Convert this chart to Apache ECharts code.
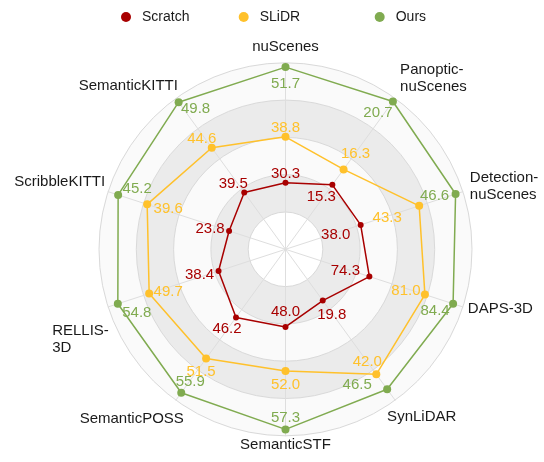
<!DOCTYPE html>
<html><head><meta charset="utf-8">
<script src="https://cdn.jsdelivr.net/npm/echarts@6/dist/echarts.min.js"></script>
<style>html,body{margin:0;padding:0;background:#fff}#c{width:544px;height:462px}</style>
</head><body><div id="c"></div>
<script>
// ---- data (clockwise from top) ----
const categories = ['nuScenes','Panoptic-\nnuScenes','Detection-\nnuScenes','DAPS-3D','SynLiDAR','SemanticSTF','SemanticPOSS','RELLIS-\n3D','ScribbleKITTI','SemanticKITTI'];
const seriesNames = ['Scratch','SLiDR','Ours'];
const scratch = [30.3,15.3,38.0,74.3,19.8,48.0,46.2,38.4,23.8,39.5];
const slidr   = [38.8,16.3,43.3,81.0,42.0,52.0,51.5,49.7,39.6,44.6];
const ours    = [51.7,20.7,46.6,84.4,46.5,57.3,55.9,54.8,45.2,49.8];
// per-axis scale range
const axisMin = [17.99,11.12,31.19,64.18,4.37,40.95,37.44,27.50,12.92,33.03];
const axisMax = [52.50,20.90,47.26,85.58,49.80,57.88,56.85,56.38,47.13,50.23];

// ---- styling ----
const FONT = '"Liberation Sans", Arial, sans-serif';
const colors = ['#a80000','#ffc12b','#80ab50'];
const symbolSizes = [6,8,8];
const labelOffsets = [
  [[0,-9],[-11,12],[-25,10],[-24,-6],[9,14],[0,-15],[-9,11],[-19,4],[-19,-2],[-11,-9]],
  [[0,-9],[12,-16],[-32,12],[-19,-4],[-9,-12],[0,14],[-5,13],[19,-2],[21,5],[-10,-9]],
  [[0,17],[-15,11],[-21,2],[-18,7],[-30,-4],[0,-12],[9,-11],[19,9],[19,-6],[17,7]]
];
const nameStyle = [
  [0,-16,'center'],[5,-20,'left'],[7,-5,'left'],[5,2,'left'],[-8,17,'left'],
  [0,9,'center'],[8,19,'right'],[-56,32,'left'],[-3,-10,'right'],[2,-13,'right']
];
const legendLeft = [121, 238.7, 374.7];

// ECharts radar places indicators counter-clockwise; reorder so they run clockwise
const order = [0,9,8,7,6,5,4,3,2,1];
const posOf = {}; order.forEach((o,k)=>posOf[o]=k);
const allVals = [scratch, slidr, ours];

const chart = echarts.init(document.getElementById('c'), null, {renderer:'canvas'});
const option = {
  animation:false,
  backgroundColor:'#fff',
  legend: seriesNames.map((n,k)=>({
    data:[n], left:legendLeft[k], top:10, padding:0, icon:'circle', itemWidth:10, itemHeight:10,
    textStyle:{fontSize:14, color:'#1a1a1a', fontFamily:FONT, padding:[0,0,0,6]}
  })),
  radar: {
    center:[285.5,249.3], radius:186.5, startAngle:90, splitNumber:5, shape:'circle',
    indicator: order.map(i=>({name:categories[i], min:axisMin[i], max:axisMax[i]})),
    axisName:{show:false},
    axisLine:{lineStyle:{color:'#dedede', width:1}},
    splitLine:{lineStyle:{color:'#d9d9d9', width:1}},
    splitArea:{show:true, areaStyle:{color:['#ffffff','#ebebeb','#fafafa','#ebebeb','#fafafa']}},
    axisTick:{show:false}, axisLabel:{show:false}
  },
  series: [{
    type:'radar', silent:true,
    data: seriesNames.map((n,k)=>({
      name:n,
      value: order.map(i=>allVals[k][i]),
      symbol:'circle', symbolSize:symbolSizes[k],
      itemStyle:{color:colors[k]},
      lineStyle:{color:colors[k], width:1.5},
      label:{show:false}
    }))
  }]
};
chart.setOption(option);

const cs = chart.getModel().getComponent('radar',0).coordinateSystem;
const graphics = [];
allVals.forEach((vals,k)=>{
  vals.forEach((v,i)=>{
    const p = cs.dataToPoint(v, posOf[i]);
    const off = labelOffsets[k][i];
    graphics.push({type:'text', silent:true, z:100, x:p[0]+off[0], y:p[1]+off[1],
      style:{text:v.toFixed(1), fill:colors[k], font:'15px '+FONT, align:'center', verticalAlign:'middle'}});
  });
});
categories.forEach((c,i)=>{
  const p = cs.dataToPoint(axisMax[i], posOf[i]);
  const s = nameStyle[i];
  graphics.push({type:'text', silent:true, z:100, x:p[0]+s[0], y:p[1]+s[1],
    style:{text:c, fill:'#1a1a1a', font:'15px '+FONT, align:s[2], verticalAlign:'middle', lineHeight:17}});
});
chart.setOption({graphic: graphics});
</script>
</body></html>
